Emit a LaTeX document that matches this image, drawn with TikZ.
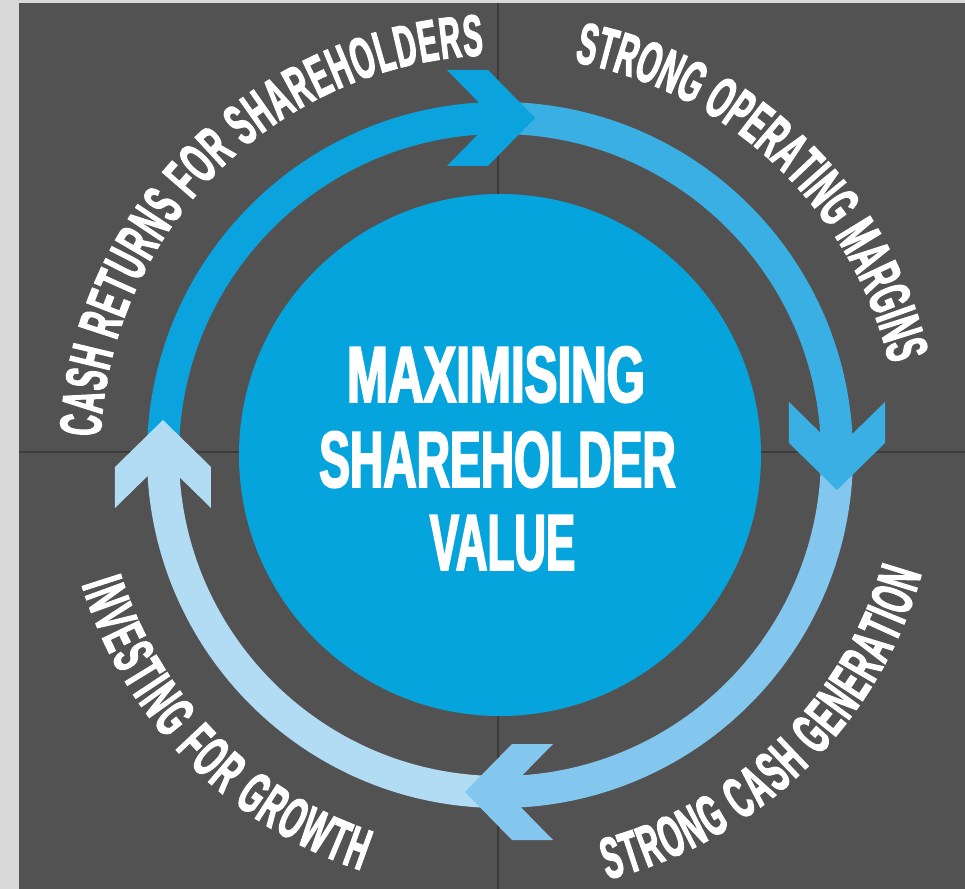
\documentclass[tikz,border=0pt]{standalone}
\usepackage{fontspec}
\usepackage{graphicx}
\usetikzlibrary{decorations.text}
\newfontfamily\ringfam{Liberation Sans}[FakeStretch=0.5,FakeBold=2]
\newfontfamily\centerfam{Liberation Sans}[FakeStretch=0.58,FakeBold=2.2]
\newcommand\ringtext{\ringfam\bfseries\fontsize{44}{44}\selectfont\color{white}}
\definecolor{stripgray}{HTML}{D9D9D9}
\definecolor{bgdark}{HTML}{535252}
\definecolor{quadline}{HTML}{3C3C3C}
\definecolor{coreblue}{HTML}{05A4DD}
\definecolor{segA}{HTML}{0AA3DD}
\definecolor{segB}{HTML}{3AAFE4}
\definecolor{segC}{HTML}{84C7EE}
\definecolor{segD}{HTML}{B2DBF4}
\tikzset{
  ringseg/.style={line width=24pt},
  coretext/.style={text=white, inner sep=0pt, anchor=base, font=\centerfam\bfseries\fontsize{59.7}{60}\selectfont},
  ringlabel/.style={decorate, decoration={text along path, text align=fit to path}}
}
\begin{document}
\begin{tikzpicture}[x=0.75pt,y=0.75pt]
\useasboundingbox (-500,-434) rectangle (465,455);
% backgrounds
\fill[stripgray] (-500,-434) rectangle (465,455);
\fill[bgdark] (-481,-434) rectangle (465,452);
\draw[quadline, line width=1.5pt] (-1.5,452) -- (-1.5,-434);
\draw[quadline, line width=1.5pt] (-481,3.3) -- (465,3.3);
% ring segments
\draw[segA, ringseg] (180:337) arc[start angle=180, end angle=90, radius=337];
\draw[segB, ringseg] (90:337) arc[start angle=90, end angle=0, radius=337];
\draw[segC, ringseg] (0:337) arc[start angle=0, end angle=-90, radius=337];
\draw[segD, ringseg] (-90:337) arc[start angle=-90, end angle=-180, radius=337];
% chevron arrow heads
\begin{scope}[shift={(35,337)}]\fill[segA] (0,0) -- (-47,48) -- (-88,48) -- (-41,0) -- (-88,-48) -- (-47,-48) -- cycle;\end{scope}
\begin{scope}[shift={(337,-35)}, rotate=-90]\fill[segB] (0,0) -- (-47,48) -- (-88,48) -- (-41,0) -- (-88,-48) -- (-47,-48) -- cycle;\end{scope}
\begin{scope}[shift={(-35,-337)}, rotate=180]\fill[segC] (0,0) -- (-47,48) -- (-88,48) -- (-41,0) -- (-88,-48) -- (-47,-48) -- cycle;\end{scope}
\begin{scope}[shift={(-337,35)}, rotate=90]\fill[segD] (0,0) -- (-47,48) -- (-88,48) -- (-41,0) -- (-88,-48) -- (-47,-48) -- cycle;\end{scope}
% central circle
\node[circle, fill=coreblue, inner sep=0pt, minimum size=391.5pt] (core) at (0,0) {};
\node[coretext] (l1) at (-4,53) {\scalebox{1.065}[1]{MAXIMISING}};
\node[coretext] (l2) at (-2.5,-32) {SHAREHOLDER};
\node[coretext] (l3) at (2.5,-115) {\scalebox{0.95}[1]{VALUE}};
% curved labels
\path[ringlabel, decoration={text={|\ringtext|CASH RETURNS FOR SHAREHOLDERS}}]
  (177.4:400) arc[start angle=177.4, end angle=92.4, radius=400];
\path[ringlabel, decoration={text={|\ringtext|STRONG OPERATING MARGINS}}]
  (79.3:400) arc[start angle=79.3, end angle=13.2, radius=400];
\path[ringlabel, decoration={text={|\ringtext|STRONG CASH GENERATION}}]
  (-75.8:438) arc[start angle=-75.8, end angle=-15.7, radius=438];
\path[ringlabel, decoration={text={|\ringtext|INVESTING FOR GROWTH}}]
  (197.2:438) arc[start angle=197.2, end angle=251.5, radius=438];
\end{tikzpicture}
\end{document}
